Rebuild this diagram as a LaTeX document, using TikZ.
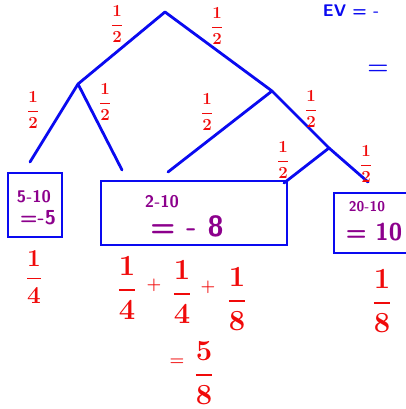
\documentclass[tikz,border=0pt]{standalone}
\usepackage{amsmath}
\definecolor{penblue}{RGB}{10,10,240}
\definecolor{penred}{RGB}{240,10,10}
\definecolor{penpurple}{RGB}{140,0,140}
\begin{document}
\begin{tikzpicture}[x=0.025cm,y=-0.025cm,
  branch/.style={penblue,line width=2pt,line cap=round},
  outcome/.style={draw=penblue,line width=2pt,inner sep=0pt},
  half/.style={penred,font=\large\boldmath},
  prob/.style={penred,font=\huge\boldmath},
  payoff/.style={penpurple,font=\sffamily\bfseries\large}]
\useasboundingbox (0,0) rectangle (406,409);
\clip (0,0) rectangle (406,409);
% tree
\coordinate (root) at (165,12);
\coordinate (l) at (78,84);
\coordinate (r) at (272,91);
\coordinate (rr) at (329,148);
\coordinate (ll) at (30,162);
\coordinate (lr) at (122,170);
\coordinate (rl) at (168,172);
\coordinate (rrl) at (284,183);
\coordinate (rrr) at (368,182);
\draw[branch] (root) -- (l);
\draw[branch] (root) -- (r);
\draw[branch] (l) -- (ll);
\draw[branch] (l) -- (lr);
\draw[branch] (r) -- (rl);
\draw[branch] (r) -- (rr);
\draw[branch] (rr) -- (rrl);
\draw[branch] (rr) -- (rrr);
\node[half] (pa) at (117,24) {$\dfrac{1}{2}$};
\node[half] (pb) at (217,26) {$\dfrac{1}{2}$};
\node[half] (pc) at (33,110) {$\dfrac{1}{2}$};
\node[half] (pd) at (105,102) {$\dfrac{1}{2}$};
\node[half] (pe) at (207,112) {$\dfrac{1}{2}$};
\node[half] (pf) at (311,109) {$\dfrac{1}{2}$};
\node[half] (pg) at (283,160) {$\dfrac{1}{2}$};
\node[half] (ph) at (366,164) {$\dfrac{1}{2}$};
% outcomes
\node[outcome,minimum width=1.35cm,minimum height=1.6cm] (lose) at (35,205) {};
\node[outcome,minimum width=4.65cm,minimum height=1.6cm] (mid) at (194,213) {};
\node[outcome,minimum width=1.9cm,minimum height=1.5cm] (win) at (372,223) {};
\node[payoff] (losea) at (34,197) {5-10};
\node[payoff,font=\sffamily\bfseries\Large] (loseb) at (38,218) {=-5};
\node[payoff] (mida) at (162,202) {2-10};
\node[payoff,font=\sffamily\bfseries\huge] (midb) at (187,226) {= - 8};
\node[payoff,font=\sffamily\bfseries] (wina) at (367,207) {20-10};
\node[payoff,font=\sffamily\bfseries\LARGE] (winb) at (374,232) {= 10};
% probabilities
\node[prob,font=\LARGE\boldmath] (qlose) at (34,277) {$\dfrac{1}{4}$};
\node[prob] (qa) at (127,288) {$\dfrac{1}{4}$};
\node[penred,font=\large\bfseries] (plusa) at (154,285) {+};
\node[prob] (qb) at (182,292) {$\dfrac{1}{4}$};
\node[penred,font=\large\bfseries] (plusb) at (208,287) {+};
\node[prob] (qc) at (237,299) {$\dfrac{1}{8}$};
\node[prob] (qwin) at (382,301) {$\dfrac{1}{8}$};
\node[penred,font=\large\bfseries] (eq) at (177,362) {=};
\node[prob] (qsum) at (204,373) {$\dfrac{5}{8}$};
% right margin
\node[penblue,font=\LARGE\bfseries] (evis) at (378,70) {=};
\node[penblue,font=\sffamily\bfseries\large,anchor=base west] (ev) at (318,16) {EV = -};
\end{tikzpicture}
\end{document}
